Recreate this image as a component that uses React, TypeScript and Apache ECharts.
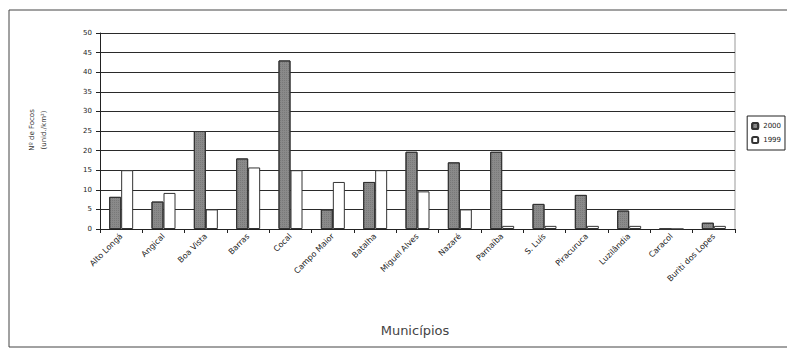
import React, { useEffect, useRef } from "react";
import * as echarts from "echarts";

// Municipalities and yearly counts
const municipios = [
  "Alto Longá",
  "Angical",
  "Boa Vista",
  "Barras",
  "Cocal",
  "Campo Maior",
  "Batalha",
  "Miguel Alves",
  "Nazaré",
  "Parnaíba",
  "S. Luís",
  "Piracuruca",
  "Luzilândia",
  "Caracol",
  "Buriti dos Lopes",
];
const valores2000 = [8.2, 7, 25, 18, 43, 5, 12, 19.7, 17, 19.7, 6.4, 8.7, 4.7, 0, 1.6];
const valores1999 = [15, 9.2, 5, 15.7, 15, 12, 15, 9.6, 5, 0.8, 0.8, 0.8, 0.8, 0, 0.8];
const yTicks = [0, 5, 10, 15, 20, 25, 30, 35, 40, 45, 50];

export default function App() {
  const ref = useRef<HTMLDivElement>(null);

  useEffect(() => {
    document.body.style.margin = "0";
    if (!ref.current) return;
    const chart = echarts.init(ref.current, null, { renderer: "svg" });
    const font = "DejaVu Sans";
    chart.setOption({
      animation: false,
      backgroundColor: "#ffffff",
      textStyle: { fontFamily: font },
      grid: { left: 100, right: 52, top: 33, bottom: 123 },
      legend: {
        orient: "vertical",
        right: 2,
        top: 116,
        itemWidth: 6,
        itemHeight: 6,
        itemGap: 6,
        padding: [6, 4, 6, 4],
        borderColor: "#222",
        borderWidth: 1,
        textStyle: { fontSize: 7, color: "#222", fontFamily: font },
        data: ["2000", "1999"],
      },
      xAxis: {
        type: "category",
        data: municipios,
        boundaryGap: true,
        axisLine: { lineStyle: { color: "#222", width: 1 } },
        axisTick: { show: true, length: 4, lineStyle: { color: "#222" } },
        axisLabel: {
          rotate: 45,
          fontSize: 8,
          color: "#222",
          margin: 6,
          interval: 0,
        },
      },
      yAxis: {
        type: "value",
        min: yTicks[0],
        max: yTicks[yTicks.length - 1],
        interval: 5,
        axisLine: { show: true, lineStyle: { color: "#222" } },
        axisTick: { show: true, length: 4, lineStyle: { color: "#222" } },
        axisLabel: { fontSize: 7, color: "#222", margin: 8 },
        splitLine: { lineStyle: { color: "#2a2a2a", width: 1.2 } },
      },
      series: [
        {
          name: "2000",
          type: "bar",
          data: valores2000,
          barWidth: 12,
          barGap: "0%",
          itemStyle: {
            color: "#8a8a8a",
            borderColor: "#333",
            borderWidth: 1,
            borderRadius: 0,
            decal: {
              symbol: "rect",
              symbolSize: 0.7,
              color: "rgba(40,40,40,0.5)",
              dashArrayX: [1, 1],
              dashArrayY: [1, 1],
              rotation: 0,
            },
          },
        },
        {
          name: "1999",
          type: "bar",
          data: valores1999,
          barWidth: 12,
          itemStyle: { color: "#ffffff", borderColor: "#333", borderWidth: 1, borderRadius: 0 },
        },
      ],
      graphic: [
        {
          type: "rect",
          shape: { x: 9, y: 10, width: 800, height: 337 },
          style: { fill: "none", stroke: "#444", lineWidth: 1 },
          silent: true,
        },
        {
          type: "line",
          shape: { x1: 735, y1: 33, x2: 735, y2: 229 },
          style: { stroke: "#999", lineWidth: 1 },
          silent: true,
        },
        {
          type: "text",
          x: 32,
          y: 130,
          rotation: Math.PI / 2,
          style: {
            text: "Nº de Focos",
            fontSize: 7,
            fill: "#333",
            fontFamily: font,
            align: "center",
            verticalAlign: "middle",
          },
        },
        {
          type: "text",
          x: 44,
          y: 130,
          rotation: Math.PI / 2,
          style: {
            text: "(unid./km²)",
            fontSize: 7,
            fill: "#333",
            fontFamily: font,
            align: "center",
            verticalAlign: "middle",
          },
        },
        {
          type: "text",
          x: 415,
          y: 330,
          style: {
            text: "Municípios",
            fontSize: 13,
            fill: "#444",
            fontFamily: font,
            align: "center",
            verticalAlign: "middle",
          },
        },
      ],
    });
    return () => chart.dispose();
  }, []);

  return <div ref={ref} style={{ width: 787, height: 352 }} />;
}
